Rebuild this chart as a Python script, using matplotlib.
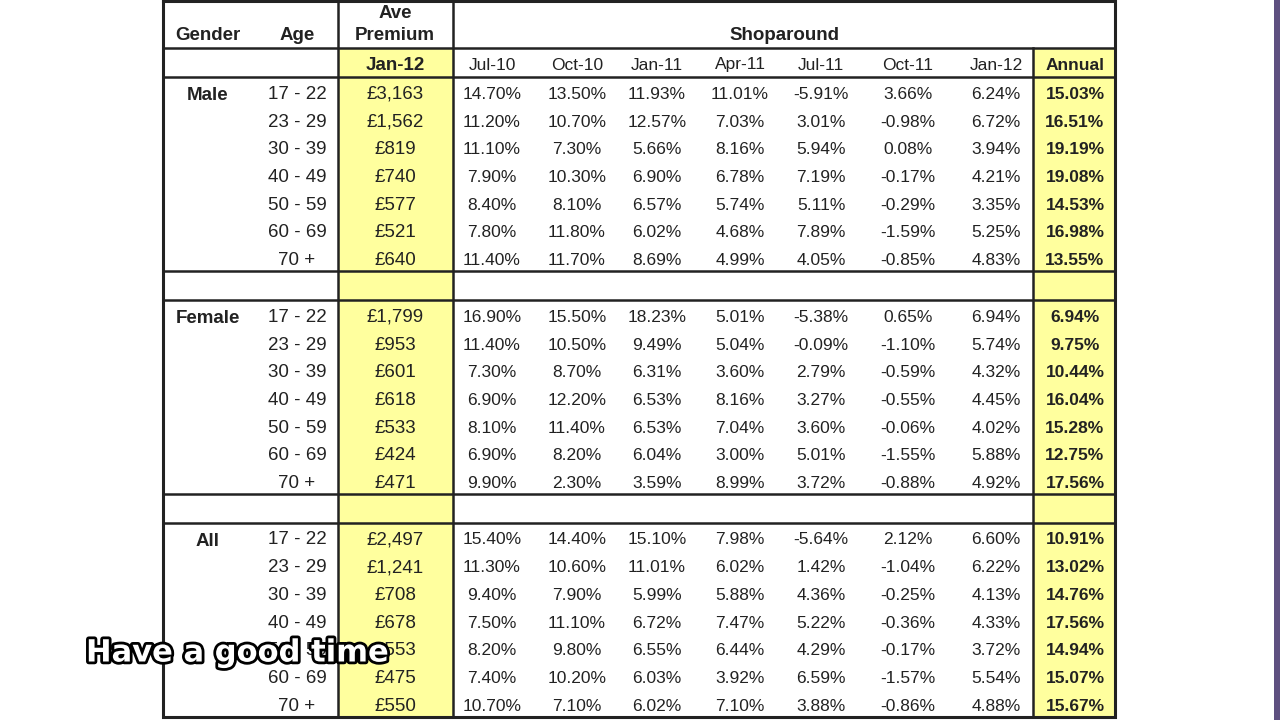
import matplotlib
matplotlib.use("Agg")
import matplotlib.pyplot as plt
from matplotlib.patches import Rectangle
import matplotlib.patheffects as pe

plt.rcParams['font.family'] = ['Liberation Sans', 'DejaVu Sans']

genders = ["Male", "Female", "All"]
ages = ["17 - 22", "23 - 29", "30 - 39", "40 - 49", "50 - 59", "60 - 69", "70 +"]
months = ["Jul-10", "Oct-10", "Jan-11", "Apr-11", "Jul-11", "Oct-11", "Jan-12"]

premium_male = ["£3,163", "£1,562", "£819", "£740", "£577", "£521", "£640"]
premium_female = ["£1,799", "£953", "£601", "£618", "£533", "£424", "£471"]
premium_all = ["£2,497", "£1,241", "£708", "£678", "£553", "£475", "£550"]

shop_male = [
    ["14.70%", "13.50%", "11.93%", "11.01%", "-5.91%", "3.66%", "6.24%"],
    ["11.20%", "10.70%", "12.57%", "7.03%", "3.01%", "-0.98%", "6.72%"],
    ["11.10%", "7.30%", "5.66%", "8.16%", "5.94%", "0.08%", "3.94%"],
    ["7.90%", "10.30%", "6.90%", "6.78%", "7.19%", "-0.17%", "4.21%"],
    ["8.40%", "8.10%", "6.57%", "5.74%", "5.11%", "-0.29%", "3.35%"],
    ["7.80%", "11.80%", "6.02%", "4.68%", "7.89%", "-1.59%", "5.25%"],
    ["11.40%", "11.70%", "8.69%", "4.99%", "4.05%", "-0.85%", "4.83%"],
]
shop_female = [
    ["16.90%", "15.50%", "18.23%", "5.01%", "-5.38%", "0.65%", "6.94%"],
    ["11.40%", "10.50%", "9.49%", "5.04%", "-0.09%", "-1.10%", "5.74%"],
    ["7.30%", "8.70%", "6.31%", "3.60%", "2.79%", "-0.59%", "4.32%"],
    ["6.90%", "12.20%", "6.53%", "8.16%", "3.27%", "-0.55%", "4.45%"],
    ["8.10%", "11.40%", "6.53%", "7.04%", "3.60%", "-0.06%", "4.02%"],
    ["6.90%", "8.20%", "6.04%", "3.00%", "5.01%", "-1.55%", "5.88%"],
    ["9.90%", "2.30%", "3.59%", "8.99%", "3.72%", "-0.88%", "4.92%"],
]
shop_all = [
    ["15.40%", "14.40%", "15.10%", "7.98%", "-5.64%", "2.12%", "6.60%"],
    ["11.30%", "10.60%", "11.01%", "6.02%", "1.42%", "-1.04%", "6.22%"],
    ["9.40%", "7.90%", "5.99%", "5.88%", "4.36%", "-0.25%", "4.13%"],
    ["7.50%", "11.10%", "6.72%", "7.47%", "5.22%", "-0.36%", "4.33%"],
    ["8.20%", "9.80%", "6.55%", "6.44%", "4.29%", "-0.17%", "3.72%"],
    ["7.40%", "10.20%", "6.03%", "3.92%", "6.59%", "-1.57%", "5.54%"],
    ["10.70%", "7.10%", "6.02%", "7.10%", "3.88%", "-0.86%", "4.88%"],
]
annual_male = ["15.03%", "16.51%", "19.19%", "19.08%", "14.53%", "16.98%", "13.55%"]
annual_female = ["6.94%", "9.75%", "10.44%", "16.04%", "15.28%", "12.75%", "17.56%"]
annual_all = ["10.91%", "13.02%", "14.76%", "17.56%", "14.94%", "15.07%", "15.67%"]

premiums = [premium_male, premium_female, premium_all]
shops = [shop_male, shop_female, shop_all]
annuals = [annual_male, annual_female, annual_all]

# layout (pixel coordinates)
W, H = 1280, 720
X0, X_AGE, X_PREM, X_ANN, X1 = 163, 338, 453, 1033, 1115
Y_TOP, Y_H1, Y_H2, Y_BOT = 1, 48, 77, 717
ROW_H = 27.7
SECTION_TOPS = [77, 300, 522.5]
GAP_TOPS = [77 + 7 * ROW_H, 300 + 7 * ROW_H]
TXT_DY = 3.6

x_gender, x_age, x_prem = 208, 297, 395
x_months = [492, 577, 657, 740, 821, 908, 996]
x_ann = 1075

INK = "#222222"
YELLOW = "#FFFF9E"
LW = 1.8

fig = plt.figure(figsize=(12.8, 7.2), dpi=100)
ax = fig.add_axes([0, 0, 1, 1])
ax.set_xlim(0, W)
ax.set_ylim(H, 0)
ax.axis("off")

# yellow columns
ax.add_patch(Rectangle((X_AGE, Y_H1), X_PREM - X_AGE, Y_BOT - Y_H1, color=YELLOW, lw=0, zorder=0))
ax.add_patch(Rectangle((X_ANN, Y_H1), X1 - X_ANN, Y_BOT - Y_H1, color=YELLOW, lw=0, zorder=0))

# outer border and grid
ax.plot([X0, X1, X1, X0, X0], [Y_TOP, Y_TOP, Y_BOT, Y_BOT, Y_TOP], color=INK, lw=LW + 0.4, solid_joinstyle="miter")
for y in [Y_H1, Y_H2] + GAP_TOPS + SECTION_TOPS[1:]:
    ax.plot([X0, X1], [y, y], color=INK, lw=LW)
for x in [X_AGE, X_PREM]:
    ax.plot([x, x], [Y_TOP, Y_BOT], color=INK, lw=LW)
ax.plot([X_ANN, X_ANN], [Y_H1, Y_BOT], color=INK, lw=LW)

FS_H = 13.5
FS_D = 12.5

# headers
ax.text(x_gender, 36, "Gender", ha="center", va="center", fontsize=FS_H, weight="bold", color=INK)
ax.text(x_age, 36, "Age", ha="center", va="center", fontsize=FS_H, weight="bold", color=INK)
ax.text(x_prem, 14, "Ave", ha="center", va="center", fontsize=FS_H, weight="bold", color=INK)
ax.text(x_prem, 35, "Premium", ha="center", va="center", fontsize=FS_H, weight="bold", color=INK)
ax.text((X_PREM + X1) / 2, 35, "Shoparound", ha="center", va="center", fontsize=FS_H, weight="bold", color=INK)
ax.text(x_prem, 65, "Jan-12", ha="center", va="center", fontsize=FS_H, weight="bold", color=INK)
for xm, m in zip(x_months, months):
    ax.text(xm, 65, m, ha="center", va="center", fontsize=FS_D, color=INK)
ax.text(x_ann, 65, "Annual", ha="center", va="center", fontsize=FS_D, weight="bold", color=INK)

# body
for s, g in enumerate(genders):
    top = SECTION_TOPS[s]
    for r, age in enumerate(ages):
        yc = top + (r + 0.5) * ROW_H + TXT_DY
        if r == 0:
            ax.text(x_gender, yc + 1.5, g, ha="center", va="center", fontsize=FS_H, weight="bold", color=INK)
        ax.text(x_age, yc, age, ha="center", va="center", fontsize=FS_H, color=INK)
        ax.text(x_prem, yc, premiums[s][r], ha="center", va="center", fontsize=FS_H, color=INK)
        for xm, v in zip(x_months, shops[s][r]):
            ax.text(xm, yc, v, ha="center", va="center", fontsize=FS_D, color=INK)
        ax.text(x_ann, yc, annuals[s][r], ha="center", va="center", fontsize=FS_D, weight="bold", color=INK)

# caption overlay
ax.text(86, 653, "Have a good time", ha="left", va="center", fontsize=22, weight="bold",
        family="DejaVu Sans", color="white",
        path_effects=[pe.withStroke(linewidth=4, foreground="black")], zorder=5)

# right edge strip artifact
ax.add_patch(Rectangle((1274, 0), 6, H, color="#5e5080", lw=0, zorder=1))

fig.savefig("out.png", dpi=100, facecolor="white")
